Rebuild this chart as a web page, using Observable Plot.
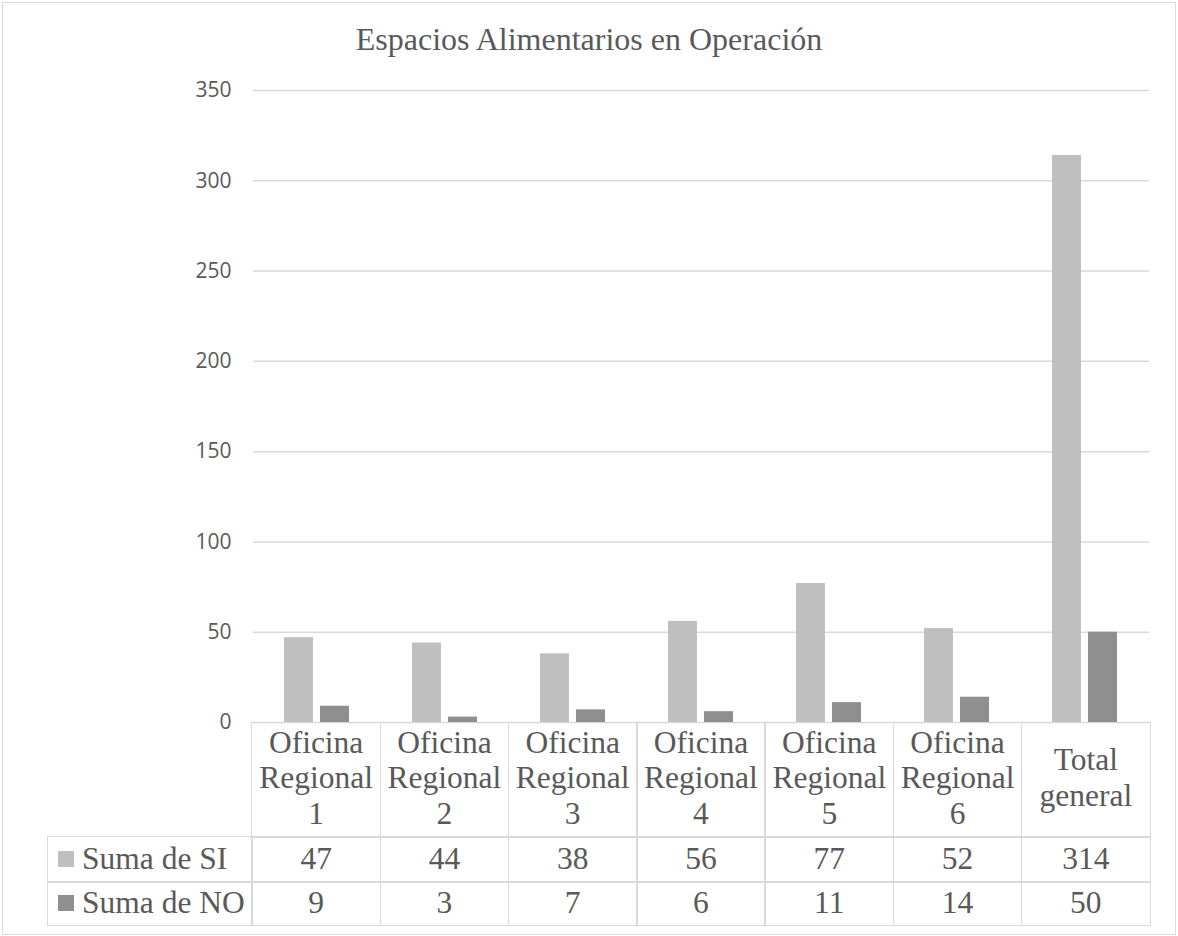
<!DOCTYPE html>
<html>
<head>
<meta charset="utf-8">
<script src="https://cdn.jsdelivr.net/npm/d3@7"></script>
<script src="https://cdn.jsdelivr.net/npm/@observablehq/plot@0.6"></script>
<style>
  html, body { margin: 0; padding: 0; background: #fff; }
  #wrap { position: relative; width: 1178px; height: 936px; overflow: hidden; background: #fff; }
  #frame { position: absolute; left: 2px; top: 2px; width: 1174px; height: 933px; border: 1.5px solid #d9d9d9; box-sizing: border-box; }
  #title { position: absolute; left: 0; width: 1178px; top: 21px; text-align: center; font-family: "Liberation Serif", serif; font-size: 32px; line-height: 1.15; color: #595959; }
  #chart { position: absolute; left: 0; top: 0; }
  .cell { position: absolute; box-sizing: border-box; border: 1.5px solid #d9d9d9; font-family: "Liberation Serif", serif; color: #595959; display: flex; align-items: center; justify-content: center; text-align: center; white-space: nowrap; }
  .cat { font-size: 31.5px; line-height: 35.5px; padding-bottom: 4px; }
  .val { font-size: 31.5px; }
  .lab { font-size: 31.5px; justify-content: flex-start; padding-left: 10px; }
  .sw { display: inline-block; width: 16px; height: 16px; margin-right: 8px; }
</style>
</head>
<body>
<div id="wrap">
  <div id="frame"></div>
  <div id="chart"></div>
  <div id="title">Espacios Alimentarios en Operación</div>
</div>
<script>
const categories = ["Oficina Regional 1", "Oficina Regional 2", "Oficina Regional 3", "Oficina Regional 4", "Oficina Regional 5", "Oficina Regional 6", "Total general"];
const seriesNames = ["Suma de SI", "Suma de NO"];
const sumaSI = [47, 44, 38, 56, 77, 52, 314];
const sumaNO = [9, 3, 7, 6, 11, 14, 50];
const yTicks = [0, 50, 100, 150, 200, 250, 300, 350];
const seriesColors = ["#bfbfbf", "#8f8f8f"];

const data = [];
categories.forEach((c, i) => {
  data.push({cat: c, series: seriesNames[0], value: sumaSI[i]});
  data.push({cat: c, series: seriesNames[1], value: sumaNO[i]});
});

const W = 1178, ML = 252, MR = 28, MT = 90, Y0 = 722;
const chart = Plot.plot({
  width: W,
  height: Y0 + 4,
  marginLeft: ML,
  marginRight: MR,
  marginTop: MT,
  marginBottom: 4,
  style: {fontFamily: "'Open Sans', sans-serif", fontSize: "21px", color: "#595959", background: "transparent", overflow: "visible"},
  fx: {domain: categories, padding: 0, axis: null, label: null},
  x: {domain: seriesNames, paddingInner: 0.19, paddingOuter: 0.86, axis: null},
  y: {domain: [0, 350], label: null},
  color: {domain: seriesNames, range: seriesColors},
  marks: [
    Plot.gridY(yTicks, {stroke: "#d9d9d9", strokeOpacity: 1, strokeWidth: 1.5}),
    Plot.axisY(yTicks, {tickSize: 0, tickPadding: 22, fill: "#595959", fontSize: 21, label: null}),
    Plot.barY(data, {fx: "cat", x: "series", y: "value", fill: "series"})
  ]
});
document.getElementById("chart").appendChild(chart);

// data table below the plot, aligned with the fx bands
const wrap = document.getElementById("wrap");
const colW = (W - ML - MR) / categories.length;
const rows = [Y0, 836, 881, 924];
const tableLeft = 47;
function cell(cls, left, top, width, height, html) {
  const d = document.createElement("div");
  d.className = "cell " + cls;
  d.style.left = left + "px";
  d.style.top = top + "px";
  d.style.width = width + "px";
  d.style.height = height + "px";
  d.innerHTML = html;
  wrap.appendChild(d);
  return d;
}
categories.forEach((c, i) => {
  const x = ML + i * colW;
  cell("cat", x - 0.75, rows[0], colW + 1.5, rows[1] - rows[0] + 1.5, c.split(" ").join("<br>"));
  cell("val", x - 0.75, rows[1], colW + 1.5, rows[2] - rows[1] + 1.5, String(sumaSI[i]));
  cell("val", x - 0.75, rows[2], colW + 1.5, rows[3] - rows[2] + 1.5, String(sumaNO[i]));
});
[sumaSI, sumaNO].forEach((arr, k) => {
  cell("lab", tableLeft, rows[k + 1], ML - tableLeft + 0.75, rows[k + 2] - rows[k + 1] + 1.5,
    `<span class="sw" style="background:${seriesColors[k]}"></span>${seriesNames[k]}`);
});
</script>
</body>
</html>
